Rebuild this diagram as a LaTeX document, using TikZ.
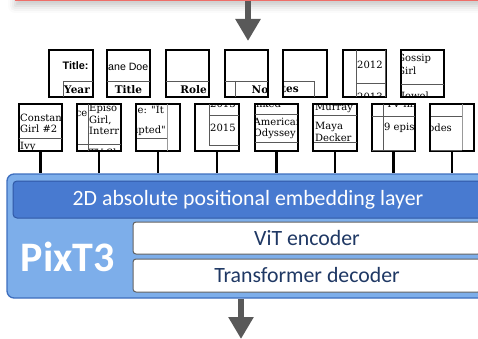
\documentclass[tikz,border=0pt]{standalone}
\usepackage{fontspec}
\setmainfont{Carlito}
\newfontfamily\cellserif{DejaVu Serif}
\newfontfamily\cellsans{Liberation Sans}
\usetikzlibrary{arrows.meta,shadows.blur}
\definecolor{docred}{RGB}{238,110,105}
\definecolor{arrowgray}{RGB}{89,89,89}
\definecolor{pixblue}{RGB}{125,174,234}
\definecolor{pixedge}{RGB}{62,110,190}
\definecolor{embblue}{RGB}{72,122,208}
\definecolor{embedge}{RGB}{48,88,165}
\definecolor{navy}{RGB}{31,56,100}
\begin{document}
\begin{tikzpicture}[x=1pt,y=-1pt,
    patch/.style={draw,line width=1.2pt,minimum width=43pt,minimum height=47pt,inner sep=0pt},
    cell/.style={inner sep=0pt,anchor=west,font=\cellserif\fontsize{10}{11}\selectfont},
    hcell/.style={cell,font=\cellserif\bfseries\fontsize{10.5}{12}\selectfont},
    scell/.style={cell,font=\cellsans\fontsize{10.6}{12}\selectfont},
    rule/.style={line width=0.6pt,black!65},
    stem/.style={line width=2.6pt},
    flow/.style={line width=6pt,draw=arrowgray,-{Triangle[length=22pt,width=24pt]}},
    layer/.style={draw=black!62,line width=1pt,fill=white,rounded corners=3pt,inner sep=0pt,
      text=navy,font=\fontsize{21.8}{24}\selectfont}]
  \useasboundingbox (0,0) rectangle (478,339);

  % page and input arrow
  \node[draw=docred,line width=1pt,fill=white,minimum width=476pt,minimum height=22pt,
    blur shadow={shadow xshift=0pt,shadow yshift=-5pt,shadow blur radius=7pt,shadow opacity=22}]
    (doc) at (253,-10) {};
  \coordinate (in) at (248,41);
  \draw[flow] (doc.south -| in) -- (in);

  % first row of patches
  \node[patch] (p1) at (71,73.5) {};
  \node[patch] (p2) at (128.5,73.5) {};
  \node[patch] (p3) at (187.5,73.5) {};
  \node[patch] (p4) at (246.5,73.5) {};
  \node[patch] (p5) at (305,73.5) {};
  \node[patch] (p6) at (364.5,73.5) {};
  \node[patch] (p7) at (422.5,73.5) {};

  \begin{scope}
    \clip (p1.south west) rectangle (p1.north east);
    \node[scell,font=\cellsans\bfseries\fontsize{10.9}{12}\selectfont] at (62.5,66) {Title: J};
    \draw[rule] (63,81) -- (95,81) (63,81) -- (63,98);
    \node[hcell] at (64,89.5) {Year};
  \end{scope}
  \begin{scope}
    \clip (p2.south west) rectangle (p2.north east);
    \node[scell,anchor=east] at (148.5,67) {Jane Doe};
    \draw[rule] (106,81) -- (151,81);
    \node[hcell,anchor=center] at (128.5,89.5) {Title};
  \end{scope}
  \begin{scope}
    \clip (p3.south west) rectangle (p3.north east);
    \draw[rule] (165,81) -- (210,81);
    \node[hcell,anchor=east] at (207,89.5) {Role};
  \end{scope}
  \begin{scope}
    \clip (p4.south west) rectangle (p4.north east);
    \draw[rule] (224,81) -- (269,81) (235,81) -- (235,98);
    \node[hcell] at (251.5,89.5) {Not};
  \end{scope}
  \begin{scope}
    \clip (p5.south west) rectangle (p5.north east);
    \draw[rule] (283,81) -- (314,81) -- (314,98);
    \node[hcell,anchor=east] at (299,89.5) {otes};
  \end{scope}
  \begin{scope}
    \clip (p6.south west) rectangle (p6.north east);
    \draw[rule] (356,49) -- (356,98) (356,83) -- (387,83) (385,49) -- (385,98);
    \node[cell] at (357,65) {2012};
    \node[cell] at (357,97) {2013};
  \end{scope}
  \begin{scope}
    \clip (p7.south west) rectangle (p7.north east);
    \node[cell] at (397,59) {Gossip};
    \node[cell] at (397,71) {Girl};
    \draw[rule] (400,84) -- (445,84);
    \node[cell] at (401,96.5) {Jewel};
  \end{scope}
  \foreach \i in {1,...,7} \draw[line width=1.2pt] (p\i.south west) rectangle (p\i.north east);

  % second row of patches
  \node[patch] (q1) at (40.5,127.5) {};
  \node[patch] (q2) at (99,127.5) {};
  \node[patch] (q3) at (158,127.5) {};
  \node[patch] (q4) at (217,127.5) {};
  \node[patch] (q5) at (276.5,127.5) {};
  \node[patch] (q6) at (335,127.5) {};
  \node[patch] (q7) at (393.5,127.5) {};
  \node[patch] (q8) at (452,127.5) {};

  \begin{scope}
    \clip (q1.south west) rectangle (q1.north east);
    \node[cell] at (20,118) {Constan};
    \node[cell] at (20,129) {Girl \#2};
    \draw[rule] (18,138) -- (63,138);
    \node[cell] at (20,147) {Ivy};
  \end{scope}
  \begin{scope}
    \clip (q2.south west) rectangle (q2.north east);
    \node[cell,anchor=east] at (87.5,114) {nce};
    \draw[rule] (88,103) -- (88,152) (77,144) -- (121,144);
    \node[cell] at (89,108.5) {Episo};
    \node[cell] at (89,120) {Girl,};
    \node[cell] at (89,131) {Interr};
    \node[cell] at (89,153) {TV Sh};
  \end{scope}
  \begin{scope}
    \clip (q3.south west) rectangle (q3.north east);
    \node[cell,anchor=east] at (164,110) {e: "It};
    \node[cell,anchor=east] at (166,131) {upted"};
    \draw[rule] (136,138) -- (167,138);
    \draw[line width=1pt,black!40] (167.5,103) -- (167.5,152);
  \end{scope}
  \begin{scope}
    \clip (q4.south west) rectangle (q4.north east);
    \node[cell] at (210,104) {2013};
    \draw[rule] (209,103) -- (209,145) -- (239,145) (209,115) -- (239,115);
    \node[cell] at (210,128) {2015};
  \end{scope}
  \begin{scope}
    \clip (q5.south west) rectangle (q5.north east);
    \node[cell] at (256,104) {nked};
    \draw[rule] (254,114) -- (299,114) (254,142) -- (299,142);
    \node[cell] at (253.5,122) {American};
    \node[cell] at (253.5,133.5) {Odyssey};
  \end{scope}
  \begin{scope}
    \clip (q6.south west) rectangle (q6.north east);
    \node[cell] at (315,108) {Murray};
    \draw[rule] (313,115) -- (357,115) (313,142) -- (357,142);
    \node[cell] at (315,127) {Maya};
    \node[cell] at (315,138) {Decker};
  \end{scope}
  \begin{scope}
    \clip (q7.south west) rectangle (q7.north east);
    \node[cell] at (386,104) {TV film};
    \draw[rule] (371,116) -- (416,116) (383,103) -- (383,150) (371,150) -- (416,150);
    \node[cell] at (384,128) {9 epis};
  \end{scope}
  \begin{scope}
    \clip (q8.south west) rectangle (q8.north east);
    \node[cell,anchor=east] at (452,128) {odes};
    \draw[rule] (430,116) -- (462,116) (430,150) -- (462,150);
    \draw[line width=1pt,black!40] (462,103) -- (462,150);
  \end{scope}
  \foreach \i in {1,...,8} \draw[line width=1.2pt] (q\i.south west) rectangle (q\i.north east);

  % model
  \node[draw=pixedge,line width=1.3pt,fill=pixblue,rounded corners=7pt,
    minimum width=478pt,minimum height=124pt] (pix) at (246,236) {};
  \node[draw=embedge,line width=1pt,fill=embblue,rounded corners=4pt,minimum width=470pt,
    minimum height=37pt,text=white,font=\fontsize{21.8}{24}\selectfont] (emb) at (248,199.5)
    {2D absolute positional embedding layer};
  \node[layer,minimum width=348pt,minimum height=32pt] (vit) at (307,238) {ViT encoder};
  \node[layer,minimum width=348pt,minimum height=33pt] (dec) at (307,275.5) {Transformer decoder};
  \node[text=white,font=\bfseries\fontsize{42}{44}\selectfont] (name) at (68,257) {PixT3};

  \foreach \i in {1,...,8} \draw[stem] (q\i.south) -- (q\i.south |- pix.north);

  \coordinate (out) at (241,339);
  \draw[flow] (pix.south -| out) -- (out);
\end{tikzpicture}
\end{document}
